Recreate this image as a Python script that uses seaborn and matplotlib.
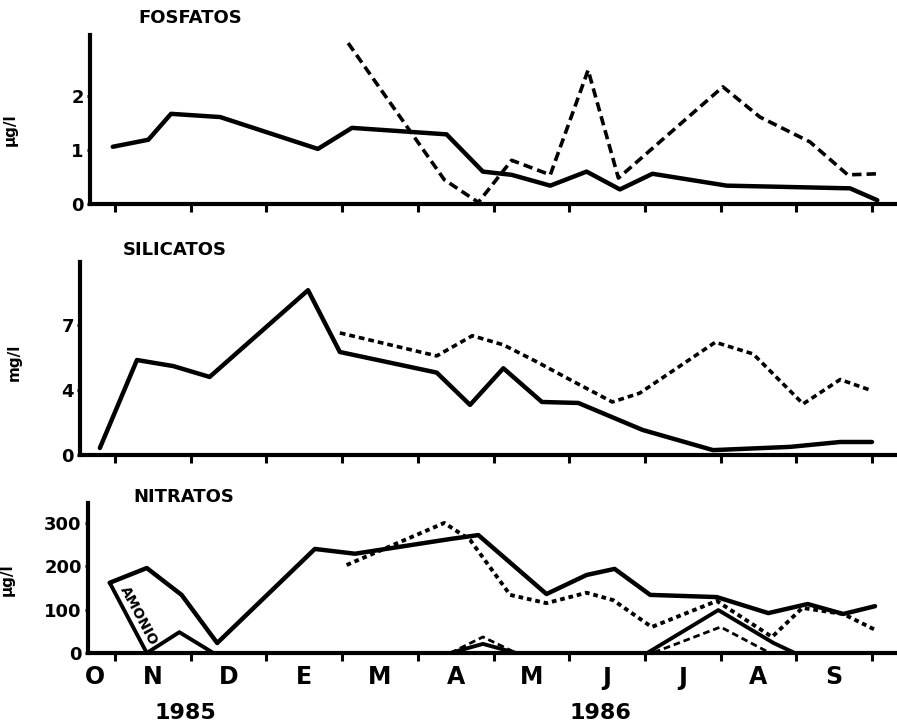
import numpy as np
import seaborn as sns
import matplotlib.pyplot as plt

# eje x en meses: 0 = comienzo de noviembre 1985
meses = ["O", "N", "D", "E", "M", "A", "M", "J", "J", "A", "S"]
meses_pos = [-0.26] + [k + 0.5 for k in range(10)]
limites_mes = list(range(11))

# FOSFATOS (ug/l)
fosf_x = [-0.03, 0.44, 0.74, 1.39, 2.68, 3.13, 4.38, 4.86, 5.24, 5.75, 6.23, 6.67, 7.1, 8.08, 9.71, 10.07]
fosf_y = [1.06, 1.19, 1.67, 1.61, 1.02, 1.41, 1.29, 0.60, 0.54, 0.34, 0.60, 0.27, 0.56, 0.34, 0.29, 0.07]
fosf2_x = [3.08, 4.35, 4.8, 5.24, 5.75, 6.25, 6.65, 8.03, 8.52, 9.18, 9.68, 10.08]
fosf2_y = [2.98, 0.45, 0.03, 0.81, 0.54, 2.48, 0.48, 2.17, 1.61, 1.15, 0.54, 0.56]

# SILICATOS (mg/l)
sil_x = [-0.2, 0.29, 0.77, 1.25, 2.55, 2.97, 4.25, 4.69, 5.13, 5.64, 6.12, 6.97, 7.9, 8.92, 9.58, 10.0]
sil_y = [0.43, 5.38, 5.1, 4.6, 8.6, 5.75, 4.8, 3.08, 5.0, 3.26, 3.2, 1.54, 0.3, 0.5, 0.8, 0.8]
sil2_x = [2.97, 4.25, 4.72, 5.13, 5.57, 6.05, 6.57, 6.93, 7.93, 8.43, 9.09, 9.58, 9.97]
sil2_y = [6.63, 5.57, 6.5, 6.08, 5.3, 4.4, 3.26, 3.8, 6.2, 5.66, 3.14, 4.48, 4.0]

# NITRATOS y AMONIO (ug/l)
nit_x = [-0.07, 0.42, 0.88, 1.35, 2.64, 3.17, 4.43, 4.8, 5.7, 6.23, 6.6, 7.07, 7.95, 8.63, 9.15, 9.62, 10.04]
nit_y = [162, 196, 134, 23, 240, 229, 263, 272, 136, 180, 194, 134, 129, 92, 113, 90, 108]
nit2_x = [3.06, 4.35, 4.69, 5.22, 5.7, 6.23, 6.58, 7.09, 7.95, 8.68, 9.08, 9.62, 10.07]
nit2_y = [203, 300, 261, 134, 115, 139, 122, 60, 120, 37, 104, 90, 51]
amon_x = [-0.07, 0.42, 0.85, 1.3, 4.43, 4.86, 5.3, 7.03, 7.97, 8.7, 8.98]
amon_y = [162, 0, 48, 0, 0, 21, 0, 0, 99, 23, 0]
amon2_x = [4.43, 4.86, 5.3, 7.1, 8.0, 8.63]
amon2_y = [0, 37, 0, 0, 60, 2]

sns.set_theme(style="ticks")
plt.rcParams["font.family"] = ["DejaVu Sans"]
plt.rcParams["font.weight"] = "bold"
for k in ("text.color", "axes.labelcolor", "xtick.color", "ytick.color"):
    plt.rcParams[k] = "black"

W, H = 897, 725
X0, PX_MES = 115, 75.7

fig = plt.figure(figsize=(W / 100, H / 100), dpi=100)


def make_axes(left, bottom, top):
    ax = fig.add_axes([left / W, 1 - bottom / H, 1 - left / W, (bottom - top) / H])
    ax.set_xlim((left - X0) / PX_MES, (W - X0) / PX_MES)
    sns.despine(ax=ax)
    for s in ("left", "bottom"):
        ax.spines[s].set_linewidth(3)
        ax.spines[s].set_color("black")
    ax.set_xticks(limites_mes)
    ax.tick_params(axis="x", which="major", direction="out", length=6, width=2.2,
                   color="black", labelbottom=False)
    ax.tick_params(axis="y", direction="out", length=2.5, width=2, color="black",
                   labelsize=13, pad=2)
    for lab in ax.get_yticklabels():
        lab.set_fontweight("bold")
    return ax


def linea(ax, x, y, estilo="-", lw=3.2):
    sns.lineplot(x=x, y=y, ax=ax, color="black", linewidth=lw, linestyle=estilo,
                 sort=False, estimator=None, clip_on=False,
                 solid_capstyle="round", solid_joinstyle="round")


# --- FOSFATOS ---
ax1 = make_axes(90, 204, 35)
ax1.set_ylim(0, 3.13)
ax1.set_yticks([0, 1, 2])
linea(ax1, fosf_x, fosf_y)
linea(ax1, fosf2_x, fosf2_y, (0, (2.6, 1.4)), 2.6)
ax1.set_ylabel("μg/l", fontsize=11, fontweight="bold")
ax1.yaxis.set_label_coords(-0.089, 0.44)
fig.text(138 / W, 1 - 18 / H, "FOSFATOS", fontsize=13, fontweight="bold", va="center")

# --- SILICATOS (escala dibujada a mano: 0, 4, 7 equiespaciados) ---
ax2 = make_axes(80, 455, 262)
ax2.set_yscale("function", functions=(
    lambda v: np.interp(v, [-4, 0, 4, 7, 13], [-1, 0, 1, 2, 4]),
    lambda s: np.interp(s, [-1, 0, 1, 2, 4], [-4, 0, 4, 7, 13])))
ax2.set_ylim(0, 9.9)
ax2.set_yticks([0, 4, 7])
ax2.set_yticklabels(["0", "4", "7"], fontweight="bold")
ax2.yaxis.set_minor_locator(plt.NullLocator())
linea(ax2, sil_x, sil_y)
linea(ax2, sil2_x, sil2_y, (0, (1.6, 1.1)), 2.6)
ax2.set_ylabel("mg/l", fontsize=11, fontweight="bold")
ax2.yaxis.set_label_coords(-0.071, 0.48)
fig.text(123 / W, 1 - 250 / H, "SILICATOS", fontsize=13, fontweight="bold", va="center")

# --- NITRATOS ---
ax3 = make_axes(88, 653, 503)
ax3.set_ylim(0, 346)
ax3.set_yticks([0, 100, 200, 300])
linea(ax3, nit_x, nit_y)
linea(ax3, nit2_x, nit2_y, (0, (1.2, 1.0)), 2.8)
linea(ax3, amon_x, amon_y, "-", 2.8)
linea(ax3, amon2_x, amon2_y, (0, (2.4, 1.4)), 2.0)
ax3.text(0.31, 86, "AMONIO", rotation=-62, fontsize=10, fontweight="bold",
         ha="center", va="center")
ax3.set_ylabel("μg/l", fontsize=11, fontweight="bold")
ax3.yaxis.set_label_coords(-0.09, 0.49)
fig.text(133 / W, 1 - 497 / H, "NITRATOS", fontsize=13, fontweight="bold", va="center")

ax3.set_xticks(meses_pos, minor=True)
ax3.set_xticklabels(meses, minor=True, fontsize=17, fontweight="bold")
ax3.tick_params(axis="x", which="minor", length=0, pad=9, labelbottom=True)

fig.text(185 / W, 1 - 713 / H, "1985", fontsize=16, fontweight="bold", ha="center", va="center")
fig.text(600 / W, 1 - 713 / H, "1986", fontsize=16, fontweight="bold", ha="center", va="center")

fig.savefig("out.png", dpi=100)
